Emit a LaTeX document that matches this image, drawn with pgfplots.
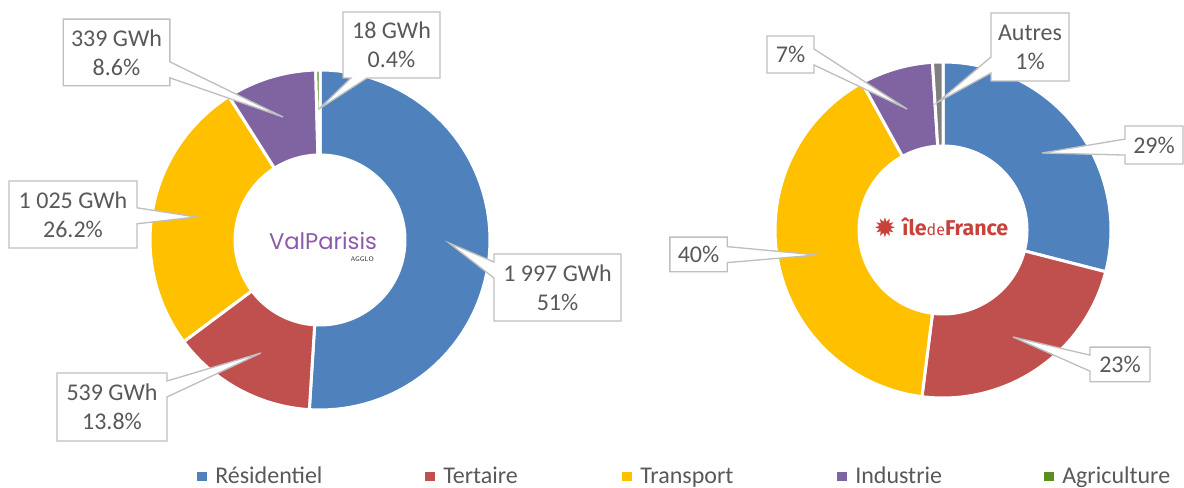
\documentclass[border=0pt]{standalone}
\usepackage{pgfplots}
\pgfplotsset{compat=1.18}
\usepackage{pgfplotstable}
\usepackage{fontspec}
\setmainfont{Carlito}
\newfontfamily\logofont{Poppins}
\newfontfamily\idffont{Fira Sans}
\newfontfamily\symfont{DejaVu Sans}
\usetikzlibrary{shapes.callouts}

\definecolor{cRes}{HTML}{4F81BD}
\definecolor{cTer}{HTML}{C0504D}
\definecolor{cTra}{HTML}{FFC000}
\definecolor{cInd}{HTML}{8064A2}
\definecolor{cAgr}{HTML}{5A8F1E}
\definecolor{cAut}{HTML}{7F7F7F}
\definecolor{txt}{HTML}{595959}
\definecolor{boxgray}{HTML}{BFBFBF}
\definecolor{vpurple}{HTML}{8C5AAA}
\definecolor{idfred}{HTML}{C8413B}

\tikzset{
  callout/.style={rectangle callout, draw=boxgray, line width=1pt, fill=white,
    text=txt, align=center, inner sep=1pt,
    font=\fontsize{18}{21.75}\selectfont, callout pointer width=12pt},
  leg/.style={anchor=base west, inner sep=0pt, text=txt,
    font=\fontsize{18}{21.75}\selectfont},
}

% Valparisis (left) : share in %, cumulative start in %
\pgfplotstableread{
share cum col
51   0    cRes
13.8 51   cTer
26.2 64.8 cTra
8.6  91   cInd
0.4  99.6 cAgr
}\leftdata
% Ile-de-France (right)
\pgfplotstableread{
share cum col
29 0  cRes
23 29 cTer
40 52 cTra
7  92 cInd
1  99 cAut
}\rightdata

% #1 cx, #2 cy, #3 outer radius, #4 cumulative start, #5 share, #6 colour
\newcommand{\donutslice}[6]{%
  \addplot[fill=#6, draw=white, line width=2.25pt,
    samples at={0,1,...,60,100,101,...,160,0}, variable=\t]
  ({#1+(((\t<80)?1:0.5)*#3)*cos(90-3.6*(#4+#5*((\t<80)?\t:(160-\t))/60))},
   {#2+(((\t<80)?1:0.5)*#3)*sin(90-3.6*(#4+#5*((\t<80)?\t:(160-\t))/60))});
}

\begin{document}
\begin{tikzpicture}
\begin{axis}[
  at={(0,0)}, anchor=south west,
  scale only axis, width=888pt, height=366pt,
  xmin=0, xmax=1184, ymin=0, ymax=488,
  hide axis, clip=false,
]
\pgfplotsforeachungrouped \i in {0,...,4}{%
  \pgfplotstablegetelem{\i}{share}\of\leftdata\let\vS\pgfplotsretval
  \pgfplotstablegetelem{\i}{cum}\of\leftdata\let\vC\pgfplotsretval
  \pgfplotstablegetelem{\i}{col}\of\leftdata\let\vCol\pgfplotsretval
  \edef\doit{\noexpand\donutslice{320}{248}{170}{\vC}{\vS}{\vCol}}\doit
}
\pgfplotsforeachungrouped \i in {0,...,4}{%
  \pgfplotstablegetelem{\i}{share}\of\rightdata\let\vS\pgfplotsretval
  \pgfplotstablegetelem{\i}{cum}\of\rightdata\let\vC\pgfplotsretval
  \pgfplotstablegetelem{\i}{col}\of\rightdata\let\vCol\pgfplotsretval
  \edef\doit{\noexpand\donutslice{943}{258}{168}{\vC}{\vS}{\vCol}}\doit
}

% logos
\node[anchor=base, inner sep=0pt, text=vpurple] at (axis cs:323,238)
  {\resizebox{81pt}{!}{\logofont\fontsize{20}{20}\selectfont ValParisis}};
\node[anchor=base east, inner sep=0pt, text=black!80] at (axis cs:374,226)
  {\fontsize{5}{5}\selectfont\sffamily AGGLO};
\node[anchor=center, inner sep=0pt, text=idfred] at (axis cs:885,260.5)
  {\symfont\fontsize{20}{20}\selectfont ✹};
\node[anchor=base west, inner sep=0pt, text=idfred] at (axis cs:902,252)
  {\resizebox{79.5pt}{!}{\idffont\fontsize{16}{16}\selectfont\bfseries île{\mdseries\fontsize{12}{12}\selectfont de}France}};

% callouts left
\node[callout, minimum width=95.25pt, minimum height=50.25pt,
  callout absolute pointer={(axis cs:449,245)}] at (axis cs:557.5,200.5) {1 997 GWh\\51\%};
\node[callout, minimum width=82.5pt, minimum height=51pt,
  callout absolute pointer={(axis cs:261,135)}] at (axis cs:112,81) {539 GWh\\13.8\%};
\node[callout, minimum width=96pt, minimum height=50.25pt,
  callout absolute pointer={(axis cs:196,271)}] at (axis cs:73,273.5) {1 025 GWh\\26.2\%};
\node[callout, minimum width=80pt, minimum height=50pt,
  callout absolute pointer={(axis cs:283,371)}] at (axis cs:116.5,435.5) {339 GWh\\8.6\%};
\node[callout, minimum width=72.75pt, minimum height=49.5pt,
  callout absolute pointer={(axis cs:319,379)}] at (axis cs:391.5,443) {18 GWh\\0.4\%};
% callouts right
\node[callout, minimum width=58.5pt, minimum height=51pt,
  callout absolute pointer={(axis cs:938,386)}] at (axis cs:1030,441) {Autres\\1\%};
\node[callout, minimum width=35.25pt, minimum height=27.75pt,
  callout absolute pointer={(axis cs:907,379)}] at (axis cs:790.5,433.5) {7\%};
\node[callout, minimum width=43.5pt, minimum height=28.5pt,
  callout absolute pointer={(axis cs:1042,335)}] at (axis cs:1154,343) {29\%};
\node[callout, minimum width=43pt, minimum height=26pt,
  callout absolute pointer={(axis cs:817,233)}] at (axis cs:698.5,233.5) {40\%};
\node[callout, minimum width=45pt, minimum height=26pt,
  callout absolute pointer={(axis cs:1013,151)}] at (axis cs:1120,123.5) {23\%};

% legend
\node[leg] at (axis cs:197,4) {\textcolor{cRes}{\rule[2.25pt]{7pt}{7pt}}\hspace{6.5pt}Résidentiel};
\node[leg] at (axis cs:425,4) {\textcolor{cTer}{\rule[2.25pt]{7pt}{7pt}}\hspace{6.5pt}Tertaire};
\node[leg] at (axis cs:622,4) {\textcolor{cTra}{\rule[2.25pt]{7pt}{7pt}}\hspace{6.5pt}Transport};
\node[leg] at (axis cs:837,4) {\textcolor{cInd}{\rule[2.25pt]{7pt}{7pt}}\hspace{6.5pt}Industrie};
\node[leg] at (axis cs:1044,4) {\textcolor{cAgr}{\rule[2.25pt]{7pt}{7pt}}\hspace{6.5pt}Agriculture};
\end{axis}
\pgfresetboundingbox
\path[use as bounding box] (0,0) rectangle (888pt,366pt);
\end{tikzpicture}
\end{document}
